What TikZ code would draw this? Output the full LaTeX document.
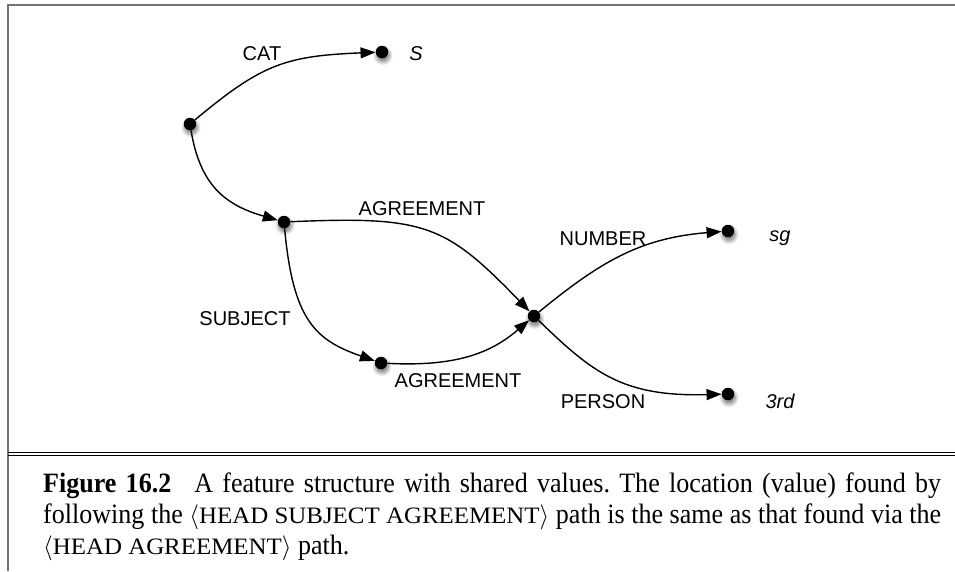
\documentclass[tikz,border=0pt]{standalone}
\usepackage{fontspec}
\setmainfont{Liberation Serif}[FakeStretch=0.93]
\newfontfamily\scfont{Liberation Serif}[FakeStretch=1.06]
\newfontfamily\labelfont{Liberation Sans}
\usetikzlibrary{arrows.meta,shadows.blur}
\tikzset{
  dot/.style={circle,fill=black,inner sep=0pt,minimum size=12.5pt,
    blur shadow={shadow xshift=1pt,shadow yshift=-3.5pt,shadow blur steps=8,shadow opacity=55,shadow blur radius=4pt}},
  edge/.style={line width=1.4pt,-{Triangle[length=15pt,width=11pt]}},
  lab/.style={font=\labelfont\fontsize{20pt}{24pt}\selectfont,anchor=base,inner sep=0pt},
  val/.style={font=\labelfont\itshape\fontsize{20pt}{24pt}\selectfont,anchor=base,inner sep=0pt},
  frameline/.style={draw=black!55,line width=2pt},
}
\newcommand{\fsc}[1]{{\scfont\fontsize{23.5pt}{31pt}\selectfont #1}}
\begin{document}
\begin{tikzpicture}[x=1pt,y=-1pt]
\useasboundingbox (0,0) rectangle (955,571);
% frame
\draw[frameline] (8,571) -- (8,5) -- (955,5);
\draw[line width=1pt] (8,452) -- (955,452);
\draw[line width=1pt] (8,455.5) -- (955,455.5);
% dots
\node[dot] (root) at (190,124) {};
\node[dot] (S) at (382,52) {};
\node[dot] (head) at (284,222) {};
\node[dot] (subj) at (381,363) {};
\node[dot] (mid) at (534,316) {};
\node[dot] (sg) at (728,231) {};
\node[dot] (third) at (728,394) {};
% edges
\draw[edge] (root) .. controls (262,64) and (285,56) .. (S);
\draw[edge] (root) .. controls (200,185) and (225,205) .. (head);
\draw[edge] (head) .. controls (425,216) and (445,224) .. (mid);
\draw[edge] (head) .. controls (293,320) and (315,340) .. (subj);
\draw[edge] (subj) .. controls (458,367) and (492,352) .. (mid);
\draw[edge] (mid) .. controls (600,262) and (640,238) .. (sg);
\draw[edge] (mid) .. controls (592,372) and (622,397) .. (third);
% labels
\node[lab] (lcat) at (262,60) {CAT};
\node[val] (vS) at (416,60) {S};
\node[lab] (lagr1) at (422,215) {AGREEMENT};
\node[lab] (lsubj) at (245,325) {SUBJECT};
\node[lab] (lagr2) at (458,387) {AGREEMENT};
\node[lab] (lnum) at (603,245) {NUMBER};
\node[val] (vsg) at (780,241) {sg};
\node[lab] (lper) at (603,408) {PERSON};
\node[val] (v3rd) at (780,408) {3rd};
% caption
\node[anchor=base west,inner sep=0pt,text width=898pt,align=justify,
  font=\fontsize{28pt}{31pt}\selectfont] (cap) at (43,492)
  {\frenchspacing\textbf{Figure 16.2}\hskip 23pt A feature structure with shared values. The location (value) found by\linebreak
  following the $\langle$\fsc{HEAD SUBJECT AGREEMENT}$\rangle$ path is the same as that found via the\linebreak
  $\langle$\fsc{HEAD AGREEMENT}$\rangle$ path.};
\end{tikzpicture}
\end{document}
